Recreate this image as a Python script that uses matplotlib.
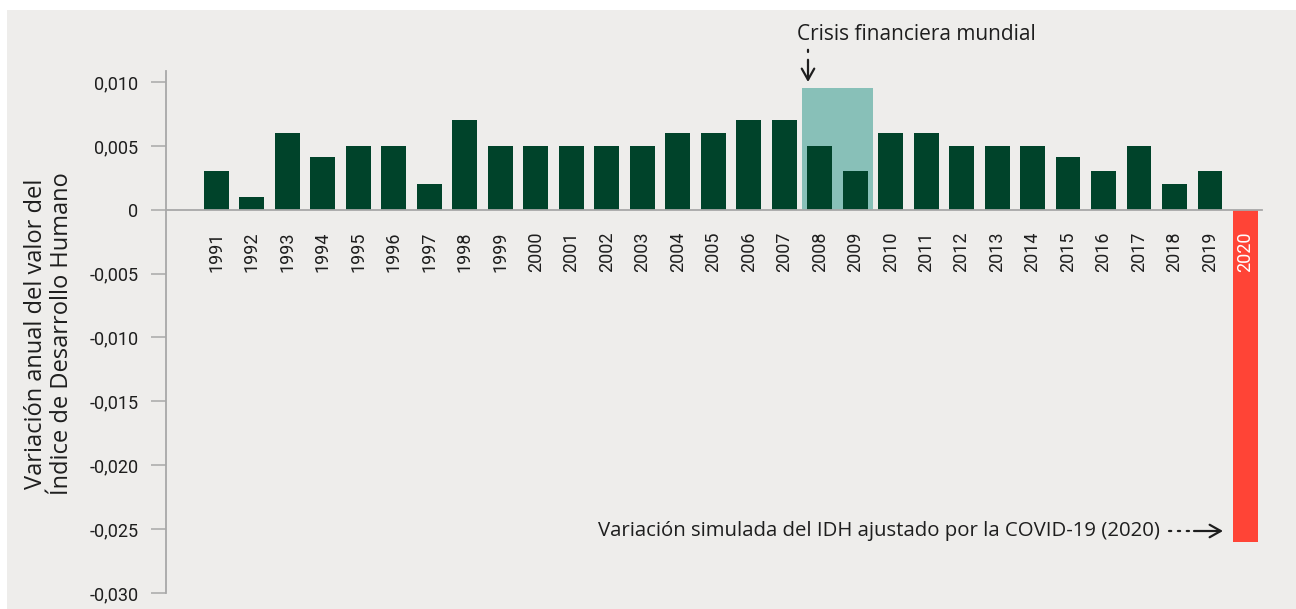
import matplotlib
matplotlib.use("Agg")
import matplotlib.pyplot as plt
from matplotlib.patches import Rectangle

# ---- data ----
years = [1991, 1992, 1993, 1994, 1995, 1996, 1997, 1998, 1999, 2000,
         2001, 2002, 2003, 2004, 2005, 2006, 2007, 2008, 2009, 2010,
         2011, 2012, 2013, 2014, 2015, 2016, 2017, 2018, 2019, 2020]
values = [0.003, 0.001, 0.006, 0.0041, 0.005, 0.005, 0.002, 0.007, 0.005, 0.005,
          0.005, 0.005, 0.005, 0.006, 0.006, 0.007, 0.007, 0.005, 0.003, 0.006,
          0.006, 0.005, 0.005, 0.005, 0.0041, 0.003, 0.005, 0.002, 0.003, -0.026]
crisis_years = [2008, 2009]
crisis_height = 0.0095
ytick_values = [0.010, 0.005, 0, -0.005, -0.010, -0.015, -0.020, -0.025, -0.030]
ytick_labels = ["0,010", "0,005", "0", "-0,005", "-0,010", "-0,015", "-0,020", "-0,025", "-0,030"]
ylabel = "Variación anual del valor del\nÍndice de Desarrollo Humano"
crisis_label = "Crisis financiera mundial"
covid_label = "Variación simulada del IDH ajustado por la COVID-19 (2020)"

# ---- style ----
W, H = 1296, 609
BG = "#EEEDEB"
GREEN = "#00432A"
RED = "#FF4436"
TEAL = "#88C0B8"
GREY = "#A8A8A8"
TXT = "#1E1E1E"
NUM_FONT = ["Liberation Sans Narrow", "Roboto", "DejaVu Sans"]
TXT_FONT = ["Open Sans", "DejaVu Sans"]

fig = plt.figure(figsize=(W / 100, H / 100), dpi=100)
fig.patch.set_facecolor("white")
fig.patches.append(Rectangle((7 / W, 0), 1 - 7 / W, (H - 10) / H,
                             transform=fig.transFigure, facecolor=BG,
                             edgecolor="none", zorder=-10))

ax = fig.add_axes([166 / W, (H - 593) / H, (1262 - 166) / W, (593 - 71) / H])
ax.set_facecolor("none")

# crisis shading
ax.bar(sum(crisis_years) / len(crisis_years), crisis_height,
       width=len(crisis_years), color=TEAL, zorder=0.5)

colors = [GREEN if v >= 0 else RED for v in values]
ax.bar(years, values, width=0.7, color=colors, zorder=1)

ax.set_xlim(1989.58, 2020.465)
ax.set_ylim(-0.030, 0.01086)

for s in ["top", "right"]:
    ax.spines[s].set_visible(False)
ax.spines["left"].set_color(GREY)
ax.spines["left"].set_linewidth(1.3)
ax.spines["bottom"].set_position(("data", 0))
ax.spines["bottom"].set_color(GREY)
ax.spines["bottom"].set_linewidth(1.3)

ax.set_yticks(ytick_values)
ax.set_yticklabels(ytick_labels, family=NUM_FONT, fontsize=13, color=TXT)
ax.tick_params(axis="y", length=10.8, width=1.1, color=GREY, pad=9)

ax.set_xticks(years)
ax.set_xticklabels([str(y) for y in years], rotation=90, family=NUM_FONT,
                   fontsize=13, color=TXT, va="top", ha="center")
ax.tick_params(axis="x", length=0, pad=16)
for lbl, v in zip(ax.get_xticklabels(), values):
    if v < 0:
        lbl.set_color("white")

fig.text(49 / W, 1 - 334 / H, ylabel, rotation=90, ha="center", va="center",
         multialignment="center", family=TXT_FONT, fontsize=17, color=TXT,
         linespacing=1.12)

# crisis annotation
fig.text(797 / W, 1 - 35 / H, crisis_label, ha="left", va="center",
         family=TXT_FONT, fontsize=15, color=TXT)
ax.annotate("", xy=(808, H - 46), xytext=(808, H - 62),
            xycoords="figure pixels", textcoords="figure pixels",
            arrowprops=dict(arrowstyle="-", linestyle=(0, (1, 3.5)), color=TXT, lw=1.6,
                            shrinkA=0, shrinkB=0))
ax.annotate("", xy=(808, H - 82), xytext=(808, H - 62),
            xycoords="figure pixels", textcoords="figure pixels",
            arrowprops=dict(arrowstyle="->,head_length=0.8,head_width=0.45",
                            color=TXT, lw=1.6, shrinkA=0, shrinkB=0))

# covid annotation
fig.text(1160 / W, 1 - 531 / H, covid_label, ha="right", va="center",
         family=TXT_FONT, fontsize=14.7, color=TXT)
ax.annotate("", xy=(1195, H - 531), xytext=(1169, H - 531),
            xycoords="figure pixels", textcoords="figure pixels",
            arrowprops=dict(arrowstyle="-", linestyle=(0, (1, 3)), color=TXT, lw=1.6,
                            shrinkA=0, shrinkB=0))
ax.annotate("", xy=(1223, H - 531), xytext=(1194, H - 531),
            xycoords="figure pixels", textcoords="figure pixels",
            arrowprops=dict(arrowstyle="->,head_length=0.8,head_width=0.45",
                            color=TXT, lw=1.6, shrinkA=0, shrinkB=0))

fig.savefig("out.png", dpi=100, facecolor=fig.get_facecolor())
